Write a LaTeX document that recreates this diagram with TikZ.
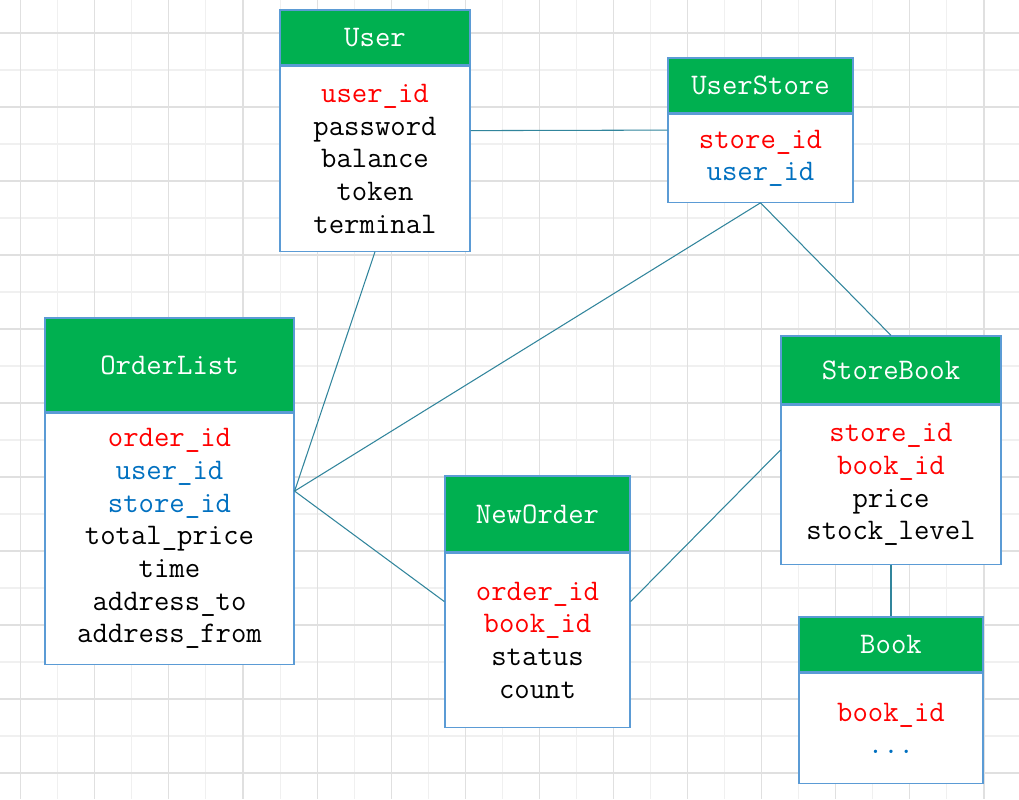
\documentclass[tikz,border=0pt]{standalone}
\usepackage{fontspec}
\usetikzlibrary{positioning, fit}

\definecolor{headgreen}{HTML}{00B050}
\definecolor{boxblue}{HTML}{5B9BD5}
\definecolor{linkteal}{HTML}{31859C}
\definecolor{keyred}{HTML}{FF0000}
\definecolor{fkblue}{HTML}{0070C0}
\definecolor{gridmajor}{HTML}{E0E0E0}
\definecolor{gridminor}{HTML}{F0F0F0}

\newcommand{\headfont}{\fontsize{17}{18.6}\selectfont\ttfamily}
\newcommand{\tabfont}{\fontsize{17}{18.6}\selectfont\ttfamily\addfontfeatures{FakeBold=0.8}}
\newcommand{\pk}[1]{\textcolor{keyred}{#1}}
\newcommand{\fk}[1]{\textcolor{fkblue}{#1}}

\tikzset{
    tablehead/.style={draw=boxblue, fill=headgreen, text=white, line width=0.7pt,
        inner sep=0pt, font=\headfont},
    tablebody/.style={draw=boxblue, fill=white, line width=0.7pt, align=center,
        inner sep=0pt, font=\tabfont},
    tablebox/.style={inner sep=0pt, outer sep=0pt},
    link/.style={draw=linkteal, line width=0.6pt},
    minorline/.style={draw=gridminor, line width=0.6pt},
    majorline/.style={draw=gridmajor, line width=0.6pt}
}

\begin{document}
\begin{tikzpicture}[x=0.02cm, y=-0.02cm]
    \fill[white] (0,0) rectangle (1019,799);
    \useasboundingbox (0,0) rectangle (1019,799);
    % grid
    \foreach \k in {0,...,26}
        \draw[minorline] ({20.7+37.05*\k},0) -- ++(0,799);
    \foreach \k in {0,...,20}
        \draw[minorline] (0,{33+37*\k}) -- ++(1019,0);
    \foreach \k in {0,2,...,26}
        \draw[majorline] ({20.7+37.05*\k},0) -- ++(0,799);
    \foreach \k in {0,2,...,20}
        \draw[majorline] (0,{33+37*\k}) -- ++(1019,0);

    % tables
    \node[tablehead, minimum width=3.8cm, minimum height=1.1cm] (userhead) at (375,37.5) {User};
    \node[tablebody, minimum width=3.8cm, minimum height=3.7cm, below=0pt of userhead] (userbody)
        {\pk{user\_id}\\password\\balance\\token\\terminal};
    \node[tablebox, fit=(userhead)(userbody)] (user) {};

    \node[tablehead, minimum width=3.7cm, minimum height=1.1cm] (userstorehead) at (760.5,85.5) {UserStore};
    \node[tablebody, minimum width=3.7cm, minimum height=1.76cm, below=0pt of userstorehead] (userstorebody)
        {\pk{store\_id}\\\fk{user\_id}};
    \node[tablebox, fit=(userstorehead)(userstorebody)] (userstore) {};

    \node[tablehead, minimum width=4.98cm, minimum height=1.88cm] (orderlisthead) at (169.5,365) {OrderList};
    \node[tablebody, minimum width=4.98cm, minimum height=5.02cm, below=0pt of orderlisthead] (orderlistbody)
        {\pk{order\_id}\\\fk{user\_id}\\\fk{store\_id}\\total\_price\\time\\address\_to\\address\_from};
    \node[tablebox, fit=(orderlisthead)(orderlistbody)] (orderlist) {};

    \node[tablehead, minimum width=3.7cm, minimum height=1.52cm] (neworderhead) at (537.5,514) {NewOrder};
    \node[tablebody, minimum width=3.7cm, minimum height=3.48cm, below=0pt of neworderhead] (neworderbody)
        {\pk{order\_id}\\\pk{book\_id}\\status\\count};
    \node[tablebox, fit=(neworderhead)(neworderbody)] (neworder) {};

    \node[tablehead, minimum width=4.4cm, minimum height=1.36cm] (storebookhead) at (891,370) {StoreBook};
    \node[tablebody, minimum width=4.4cm, minimum height=3.18cm, below=0pt of storebookhead] (storebookbody)
        {\pk{store\_id}\\\pk{book\_id}\\price\\stock\_level};
    \node[tablebox, fit=(storebookhead)(storebookbody)] (storebook) {};

    \node[tablehead, minimum width=3.68cm, minimum height=1.1cm] (bookhead) at (891,644.5) {Book};
    \node[tablebody, minimum width=3.68cm, minimum height=2.2cm, below=0pt of bookhead] (bookbody)
        {\pk{book\_id}\\\fk{...}};
    \node[tablebox, fit=(bookhead)(bookbody)] (book) {};

    % links
    \draw[link] (user.east) -- (userstore.west);
    \draw[link] (user.south) -- (orderlist.east);
    \draw[link] (userstore.south) -- (orderlist.east);
    \draw[link] (userstore.south) -- (storebook.north);
    \draw[link] (orderlist.east) -- (neworder.west);
    \draw[link] (neworder.east) -- (storebook.west);
    \draw[link] (storebook.south) -- (book.north);
\end{tikzpicture}
\end{document}
